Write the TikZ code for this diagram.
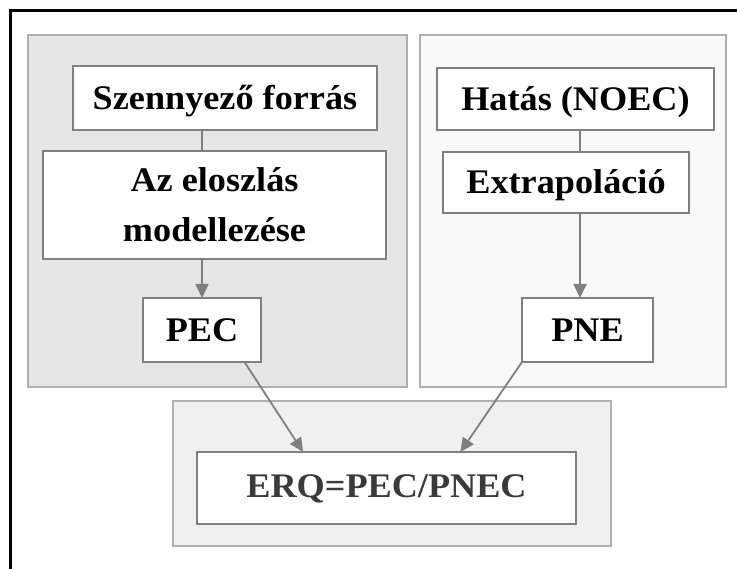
\documentclass[tikz,border=0pt]{standalone}
\usepackage{fontspec}
\setmainfont{Liberation Serif}[FakeStretch=1.05]
\usetikzlibrary{arrows.meta,calc}

\definecolor{frameblack}{HTML}{000000}
\definecolor{groupedge}{HTML}{B0B0B0}
\definecolor{groupleft}{HTML}{E6E6E6}
\definecolor{groupright}{HTML}{F9F9F9}
\definecolor{groupbottom}{HTML}{F0F0F0}
\definecolor{boxedge}{HTML}{808080}
\definecolor{linkgray}{HTML}{7F7F7F}
\definecolor{resulttext}{HTML}{3A3A3A}

\tikzset{
  group/.style={draw=groupedge, line width=2.5pt},
  stepbox/.style={draw=boxedge, line width=1.5pt, fill=white, inner sep=0pt, outer sep=0pt,
    align=center, font=\fontsize{34.5}{50}\selectfont\bfseries, text=black},
  oneline/.style={stepbox, text height=23pt, text depth=0pt},
  link/.style={draw=linkgray, line width=1.8pt},
  flow/.style={link, -{Triangle[length=14pt,width=13pt]}},
}

\begin{document}
\begin{tikzpicture}[x=1pt,y=-1pt]
  \useasboundingbox (0,0) rectangle (737,569);
  \fill[white] (0,0) rectangle (737,569);

  % outer frame (top and left edges)
  \draw[frameblack, line width=3pt] (10.5,569) -- (10.5,11) -- (737,11);

  % cluster backgrounds
  \draw[group, fill=groupleft]   (28,35)  rectangle (407,387);
  \draw[group, fill=groupright]  (420,35) rectangle (726,387);
  \draw[group, fill=groupbottom] (173,401) rectangle (611,546);

  % exposure branch
  \node[oneline, minimum width=304pt, minimum height=64pt] (szf) at (225,98) {Szennyező forrás};
  \node[stepbox, minimum width=343pt, minimum height=108pt] (az) at (214.5,205) {Az eloszlás\\modellezése};
  \node[oneline, minimum width=118pt, minimum height=64pt] (pec) at (202,330) {PEC};

  % effect branch
  \node[oneline, minimum width=277pt, minimum height=62pt] (hat) at (575.5,99) {Hatás (NOEC)};
  \node[oneline, minimum width=246pt, minimum height=61pt] (ext) at (566,182.5) {Extrapoláció};
  \node[oneline, minimum width=131pt, minimum height=64pt] (pne) at (587.5,330) {PNE};

  % risk quotient
  \node[stepbox, minimum width=379pt, minimum height=72pt, text=resulttext,
        text height=23pt, text depth=4pt] (erq) at (386.5,488) {ERQ=PEC/PNEC};

  \coordinate (rx) at (580,0);

  % connectors
  \draw[link] (pec.north |- szf.south) -- (pec.north |- az.north);
  \draw[flow] (pec.north |- az.south) -- (pec.north);
  \draw[link] (rx |- hat.south) -- (rx |- ext.north);
  \draw[flow] (rx |- ext.south) -- (rx |- pne.north);
  \draw[flow] ($(pec.south west)!0.86!(pec.south east)$) -- ($(erq.north west)!0.28!(erq.north east)$);
  \draw[flow] (pne.south west) -- ($(erq.north west)!0.695!(erq.north east)$);
\end{tikzpicture}
\end{document}
